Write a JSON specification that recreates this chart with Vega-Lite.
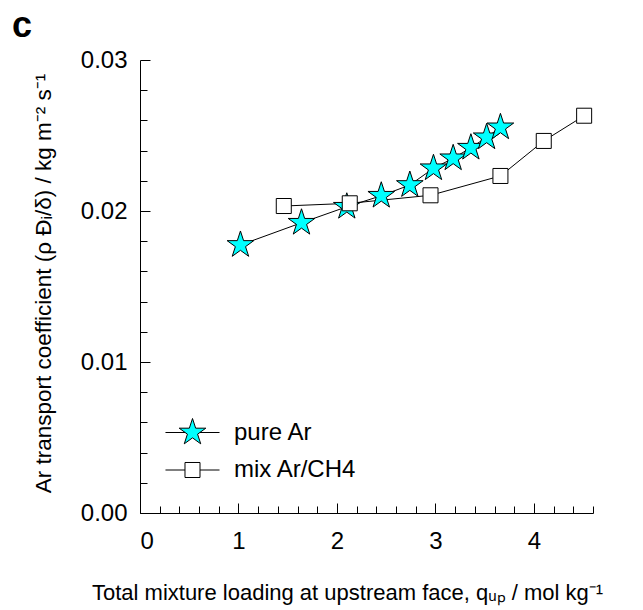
{
  "$schema": "https://vega.github.io/schema/vega-lite/v6.json",
  "width": 453,
  "height": 453,
  "autosize": "none",
  "padding": {"left": 140, "top": 60, "right": 50, "bottom": 97},
  "background": "white",
  "config": {
    "view": {"stroke": null},
    "font": "Liberation Sans",
    "axis": {"grid": false, "domainColor": "black", "tickColor": "black", "labelColor": "black", "titleColor": "black", "labelFont": "Liberation Sans", "titleFont": "Liberation Sans", "titleFontWeight": "normal", "domainWidth": 1, "tickWidth": 1},
    "legend": {"orient": "none", "padding": 0, "symbolSize": 784, "labelFontSize": 24, "labelFont": "Liberation Sans", "labelColor": "black", "labelOffset": 27, "symbolStrokeColor": "black", "symbolStrokeWidth": 1, "symbolOpacity": 1}
  },
  "title": {"text": "c", "anchor": "start", "frame": "group", "fontSize": 36, "fontWeight": "bold", "font": "Liberation Sans", "color": "black", "dx": -128, "dy": 1},
  "data": {
    "values": [
      {"series": "pure Ar", "q": 1.02, "k": 0.01775},
      {"series": "pure Ar", "q": 1.64, "k": 0.01922},
      {"series": "pure Ar", "q": 2.10, "k": 0.02028},
      {"series": "pure Ar", "q": 2.45, "k": 0.02101},
      {"series": "pure Ar", "q": 2.74, "k": 0.02172},
      {"series": "pure Ar", "q": 2.98, "k": 0.02283},
      {"series": "pure Ar", "q": 3.18, "k": 0.02349},
      {"series": "pure Ar", "q": 3.36, "k": 0.02419},
      {"series": "pure Ar", "q": 3.52, "k": 0.02488},
      {"series": "pure Ar", "q": 3.66, "k": 0.02554},
      {"series": "mix Ar/CH4", "q": 1.46, "k": 0.02033},
      {"series": "mix Ar/CH4", "q": 2.13, "k": 0.02051},
      {"series": "mix Ar/CH4", "q": 2.95, "k": 0.02104},
      {"series": "mix Ar/CH4", "q": 3.66, "k": 0.02232},
      {"series": "mix Ar/CH4", "q": 4.10, "k": 0.02464},
      {"series": "mix Ar/CH4", "q": 4.51, "k": 0.02631}
    ]
  },
  "layer": [
    {
      "mark": {"type": "line", "color": "black", "strokeWidth": 1},
      "encoding": {
        "x": {"field": "q", "type": "quantitative", "scale": {"domain": [0, 4.6], "nice": false, "zero": false},
          "axis": {"orient": "bottom", "values": [0, 1, 2, 3, 4], "format": "d", "tickSize": -10, "labelFontSize": 24, "labelPadding": 26, "title": "Total mixture loading at upstream face, qᵤₚ / mol kg⁻¹", "titleFontSize": 22, "titleX": 207, "titleY": 86, "titleBaseline": "alphabetic", "titleAlign": "center"}},
        "y": {"field": "k", "type": "quantitative", "scale": {"domain": [0, 0.03], "nice": false, "zero": false},
          "axis": {"orient": "left", "values": [0, 0.01, 0.02, 0.03], "format": ".2f", "tickSize": -10, "labelFontSize": 24, "labelPadding": 23, "title": "Ar transport coefficient (ρ Đᵢ/δ) / kg m⁻² s⁻¹", "titleFontSize": 22.5, "titleX": -90, "titleY": 223, "titleAngle": 270, "titleBaseline": "alphabetic", "titleAlign": "center"}},
        "detail": {"field": "series"}
      }
    },
    {
      "transform": [{"filter": "datum.series === 'pure Ar'"}],
      "mark": {"type": "point", "filled": true, "stroke": "black", "strokeWidth": 1, "size": 784, "opacity": 1},
      "encoding": {
        "x": {"field": "q", "type": "quantitative",
          "axis": {"orient": "bottom", "values": [0.2, 0.4, 0.6, 0.8, 1.2, 1.4, 1.6, 1.8, 2.2, 2.4, 2.6, 2.8, 3.2, 3.4, 3.6, 3.8, 4.2, 4.4, 4.6], "tickSize": -7, "labels": false, "domain": false, "title": null}},
        "y": {"field": "k", "type": "quantitative",
          "axis": {"orient": "left", "values": [0.002, 0.004, 0.006, 0.008, 0.012, 0.014, 0.016, 0.018, 0.022, 0.024, 0.026, 0.028], "tickSize": -7, "labels": false, "domain": false, "title": null}},
        "shape": {"value": "M0,-1L0.2245,-0.309L0.951,-0.309L0.363,0.118L0.588,0.809L0,0.382L-0.588,0.809L-0.363,0.118L-0.951,-0.309L-0.2245,-0.309Z"},
        "fill": {"field": "series", "type": "nominal", "scale": {"domain": ["pure Ar"], "range": ["#00ffff"]},
          "legend": {"title": null, "legendX": 38, "legendY": 358,
            "symbolType": "M-1.93,0H-0.53M0.53,0H1.93M0,-1L0.2245,-0.309L0.951,-0.309L0.363,0.118L0.588,0.809L0,0.382L-0.588,0.809L-0.363,0.118L-0.951,-0.309L-0.2245,-0.309Z"}}
      }
    },
    {
      "transform": [{"filter": "datum.series === 'mix Ar/CH4'"}],
      "mark": {"type": "point", "filled": true, "stroke": "black", "strokeWidth": 1, "size": 784, "opacity": 1},
      "encoding": {
        "x": {"field": "q", "type": "quantitative", "axis": null},
        "y": {"field": "k", "type": "quantitative", "axis": null},
        "shape": {"value": "M-0.536,-0.536H0.536V0.536H-0.536Z"},
        "fill": {"field": "series", "type": "nominal", "scale": {"domain": ["mix Ar/CH4"], "range": ["#ffffff"]},
          "legend": {"title": null, "legendX": 38, "legendY": 395.5,
            "symbolType": "M-1.93,0H-0.536M0.536,0H1.93M-0.536,-0.536H0.536V0.536H-0.536Z"}}
      }
    }
  ],
  "resolve": {"axis": {"x": "independent", "y": "independent"}, "scale": {"fill": "independent"}, "legend": {"fill": "independent"}}
}
